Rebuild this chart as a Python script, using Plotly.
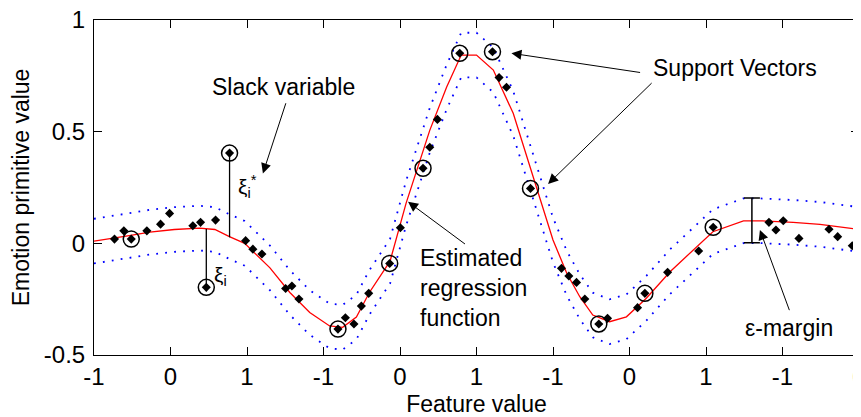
import plotly.graph_objects as go

# ---------------- data ----------------
x_tickvals = list(range(11))
x_ticktext = ["-1", "0", "1", "-1", "0", "1", "-1", "0", "1", "-1", "0"]
y_tickvals = [-0.5, 0, 0.5, 1]
y_ticktext = ["-0.5", "0", "0.5", "1"]

# estimated regression function (red)
reg_x = [0.00, 0.20, 0.46, 0.73, 1.05, 1.38, 1.58, 1.77, 1.97, 2.30, 2.56, 2.82,
         3.08, 3.25, 3.43, 3.60, 3.73, 3.87, 4.08, 4.39, 4.61, 4.80, 5.00, 5.22,
         5.48, 5.78, 6.00, 6.18, 6.35, 6.52, 6.74, 6.96, 7.22, 7.53, 7.83, 8.09,
         8.49, 8.71, 9.14, 9.49, 10.00]
reg_y = [0.010, 0.020, 0.035, 0.050, 0.062, 0.068, 0.062, 0.030, 0.000, -0.110,
         -0.220, -0.310, -0.370, -0.376, -0.330, -0.220, -0.150, -0.080, 0.180,
         0.507, 0.700, 0.843, 0.843, 0.776, 0.582, 0.253, 0.015, -0.134, -0.239,
         -0.321, -0.351, -0.329, -0.246, -0.127, -0.030, 0.052, 0.101, 0.101,
         0.094, 0.085, 0.062]
EPSILON = 0.1

# training samples
pts_x = [0.268, 0.390, 0.487, 0.691, 0.870, 0.988, 1.292, 1.393, 1.589, 1.468,
         1.772, 1.982, 2.077, 2.195, 2.505, 2.587, 2.679, 3.189, 3.286, 3.398,
         3.495, 3.591, 3.865, 4.005, 4.301, 4.389, 4.489, 4.781, 5.209, 5.295,
         5.392, 5.706, 6.111, 6.207, 6.307, 6.416, 6.599, 6.713, 7.105, 7.201,
         7.498, 7.904, 8.094, 8.823, 8.914, 9.010, 9.215, 9.608, 9.721, 9.912]
pts_y = [0.019, 0.056, 0.019, 0.056, 0.086, 0.134, 0.079, 0.094, 0.104, -0.197,
         0.404, 0.012, -0.026, -0.048, -0.202, -0.191, -0.249, -0.384, -0.333,
         -0.361, -0.281, -0.224, -0.090, 0.070, 0.336, 0.430, 0.555, 0.851, 0.858,
         0.742, 0.699, 0.246, -0.112, -0.146, -0.175, -0.249, -0.361, -0.336,
         -0.288, -0.224, -0.130, -0.034, 0.072, 0.094, 0.060, 0.101, 0.022, 0.063,
         0.030, -0.011]
# indices of support vectors (circled)
sv_idx = [2, 9, 10, 17, 22, 24, 27, 28, 31, 36, 39, 42]

# slack variables: x, sample value, curve value
slack_x = [1.772, 1.468]
slack_pt = [0.404, -0.197]
slack_curve = [0.027, 0.064]

# epsilon-margin bar
ebar_x = 8.60
ebar_y = 0.103

# ---------------- figure ----------------
FONT = "Liberation Sans, Arial, sans-serif"
fig = go.Figure()

upper = [v + EPSILON for v in reg_y]
lower = [v - EPSILON for v in reg_y]
for yy in (upper, lower):
    fig.add_trace(go.Scatter(x=reg_x, y=yy, mode="lines",
                             line=dict(color="#0000FF", width=1.8, dash="1.8px,7.2px"),
                             hoverinfo="skip", showlegend=False))

fig.add_trace(go.Scatter(x=reg_x, y=reg_y, mode="lines",
                         line=dict(color="#FF0000", width=1.3),
                         showlegend=False))

sx, sy = [], []
for x0, a, b in zip(slack_x, slack_pt, slack_curve):
    sx += [x0, x0, None]
    sy += [a, b, None]
fig.add_trace(go.Scatter(x=sx, y=sy, mode="lines",
                         line=dict(color="black", width=1.3), showlegend=False))

fig.add_trace(go.Scatter(x=[ebar_x], y=[ebar_y], mode="markers",
                         marker=dict(size=1, color="rgba(0,0,0,0)"),
                         error_y=dict(type="constant", value=EPSILON, color="black",
                                      thickness=1.5, width=8),
                         showlegend=False))

fig.add_trace(go.Scatter(x=pts_x, y=pts_y, mode="markers",
                         marker=dict(symbol="diamond", size=7, color="black"),
                         showlegend=False))
fig.add_trace(go.Scatter(x=[pts_x[i] for i in sv_idx], y=[pts_y[i] for i in sv_idx],
                         mode="markers",
                         marker=dict(symbol="circle-open", size=16, color="black",
                                     line=dict(width=1.5, color="black")),
                         showlegend=False))

tick_font = dict(family=FONT, size=24, color="black")
title_font = dict(family=FONT, size=23, color="black")
ann = []
def label(x, y, text, xanchor="center", align="center", size=23):
    ann.append(dict(x=x, y=y, xref="x", yref="y", text=text, showarrow=False,
                    xanchor=xanchor, yanchor="middle", align=align,
                    font=dict(family=FONT, size=size, color="black")))

def arrow(x_head, y_head, x_tail, y_tail):
    ann.append(dict(x=x_head, y=y_head, ax=x_tail, ay=y_tail, xref="x", yref="y",
                    axref="x", ayref="y", text="", showarrow=True, arrowhead=2,
                    arrowsize=2, arrowwidth=1, arrowcolor="black", standoff=0))

label(2.483, 0.698, "Slack variable")
arrow(2.208, 0.313, 2.514, 0.634)
label(1.853, 0.256, "ξ<sub>i</sub><sup>*</sup>", xanchor="left", size=21)
label(1.539, -0.146, "ξ<sub>i</sub>", xanchor="left", size=21)
label(8.385, 0.785, "Support Vectors")
arrow(5.457, 0.851, 7.158, 0.764)
arrow(5.936, 0.266, 7.309, 0.724)
label(4.236, -0.198, "Estimated<br>regression<br>function", xanchor="left", align="left")
arrow(4.105, 0.186, 4.869, -0.008)
label(9.084, -0.379, "ε-margin")
arrow(8.705, 0.060, 9.097, -0.306)

# the page body adds an 8px offset, so the figure is 8px smaller than the window
fig.update_layout(
    width=853, height=409,
    margin=dict(l=86, r=2, t=12, b=62),
    paper_bgcolor="white", plot_bgcolor="white",
    font=title_font,
    annotations=ann,
    xaxis=dict(range=[0, 10], tickmode="array", tickvals=x_tickvals,
               ticktext=x_ticktext, ticks="inside", ticklen=8, tickcolor="black",
               tickfont=tick_font,
               showline=True, linecolor="black", linewidth=1, mirror="ticks",
               showgrid=False, zeroline=False, ticklabelstandoff=0,
               ticklabeloverflow="allow", automargin=False,
               title=dict(text="Feature value", standoff=7, font=title_font)),
    yaxis=dict(range=[-0.5, 1], tickmode="array", tickvals=y_tickvals,
               ticktext=y_ticktext, ticks="inside", ticklen=8, tickcolor="black",
               tickfont=tick_font,
               showline=True, linecolor="black", linewidth=1, mirror="ticks",
               showgrid=False, zeroline=False, ticklabelstandoff=3,
               ticklabeloverflow="allow", automargin=False,
               title=dict(text="Emotion primitive value", standoff=9, font=title_font)),
)

fig.write_html("out.html")
